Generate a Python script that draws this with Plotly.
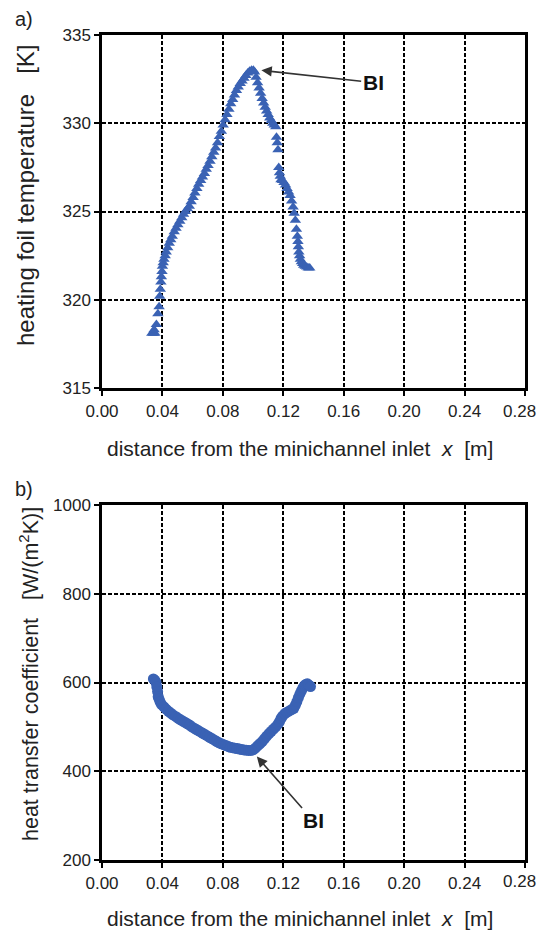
import plotly.graph_objects as go

# ---- data ----
x_a = [0.0330, 0.0340, 0.0350, 0.0345, 0.0360, 0.0370, 0.0378, 0.0382, 0.0386, 0.0390, 0.0393,
       0.0397, 0.0400, 0.0405, 0.0410, 0.0418, 0.0425, 0.0435, 0.0445, 0.0455, 0.0465, 0.0478,
       0.0490, 0.0502, 0.0515, 0.0528, 0.0540, 0.0552, 0.0565, 0.0578, 0.0590, 0.0603, 0.0615,
       0.0628, 0.0640, 0.0653, 0.0665, 0.0678, 0.0690, 0.0702, 0.0715, 0.0727, 0.0740, 0.0752,
       0.0765, 0.0777, 0.0790, 0.0802, 0.0815, 0.0827, 0.0840, 0.0852, 0.0865, 0.0877, 0.0890,
       0.0902, 0.0915, 0.0927, 0.0940, 0.0952, 0.0965, 0.0977, 0.0990, 0.1002, 0.1010, 0.1020,
       0.1030, 0.1040, 0.1050, 0.1060, 0.1070, 0.1080, 0.1090, 0.1100, 0.1110, 0.1120, 0.1130,
       0.1140, 0.1150, 0.1155, 0.1160, 0.1165, 0.1170, 0.1175, 0.1180, 0.1185, 0.1195, 0.1205,
       0.1215, 0.1225, 0.1235, 0.1245, 0.1255, 0.1265, 0.1272, 0.1280, 0.1287, 0.1293, 0.1297,
       0.1300, 0.1303, 0.1308, 0.1313, 0.1320, 0.1328, 0.1335, 0.1345, 0.1355, 0.1365, 0.1375]
temp_a = [318.1, 318.1, 318.1, 318.3, 318.6, 319.2, 319.6, 320.2, 320.6, 321.0, 321.3,
          321.6, 321.9, 322.1, 322.3, 322.5, 322.7, 322.95, 323.2, 323.4, 323.6, 323.85,
          324.05, 324.25, 324.45, 324.65, 324.85, 325.0, 325.15, 325.3, 325.55, 325.8, 326.05,
          326.3, 326.55, 326.75, 326.95, 327.15, 327.4, 327.6, 327.85, 328.1, 328.35, 328.6,
          328.9, 329.25, 329.55, 329.9, 330.2, 330.5, 330.8, 331.1, 331.35, 331.6, 331.85,
          332.05, 332.25, 332.4, 332.55, 332.7, 332.85, 332.95, 333.0, 333.0, 332.9, 332.6,
          332.3, 332.0, 331.7, 331.4, 331.15, 330.9, 330.7, 330.5, 330.3, 330.15, 330.0,
          329.9, 329.8, 329.2, 328.9, 328.5, 327.5, 327.2, 327.0, 326.8, 326.75, 326.65,
          326.5, 326.3, 326.1, 325.9, 325.6, 325.25, 324.9, 324.5, 324.0, 323.6, 323.3,
          323.0, 322.7, 322.5, 322.3, 322.15, 322.05, 321.95, 321.9, 321.85, 321.8, 321.8]

x_b = [0.0340, 0.0350, 0.0358, 0.0363, 0.0368, 0.0372, 0.0378, 0.0385, 0.0395, 0.0410, 0.0424,
       0.0440, 0.0455, 0.0470, 0.0490, 0.0505, 0.0520, 0.0535, 0.0550, 0.0565, 0.0580, 0.0595,
       0.0610, 0.0625, 0.0640, 0.0655, 0.0670, 0.0685, 0.0700, 0.0715, 0.0730, 0.0745, 0.0760,
       0.0775, 0.0790, 0.0805, 0.0820, 0.0835, 0.0850, 0.0865, 0.0880, 0.0895, 0.0910, 0.0925,
       0.0940, 0.0955, 0.0970, 0.0985, 0.1000, 0.1015, 0.1030, 0.1045, 0.1060, 0.1075, 0.1090,
       0.1105, 0.1120, 0.1135, 0.1150, 0.1165, 0.1175, 0.1185, 0.1195, 0.1210, 0.1225, 0.1240,
       0.1255, 0.1270, 0.1280, 0.1290, 0.1300, 0.1310, 0.1320, 0.1330, 0.1340, 0.1350, 0.1360,
       0.1370, 0.1380]
htc_b = [608, 605, 600, 590, 580, 568, 562, 556, 550, 545, 540,
         535, 531, 527, 523, 519, 516, 513, 510, 507, 504, 500,
         497, 494, 491, 488, 485, 482, 479, 476, 473, 470, 467,
         464, 462, 460, 458, 456, 454, 453, 452, 451, 450, 449,
         448, 447.5, 447, 447, 448, 452, 457, 462, 467, 473, 479,
         485, 490, 495, 500, 506, 512, 519, 524, 530, 533, 536,
         539, 542, 549, 557, 566, 574, 581, 588, 593, 596, 597,
         594, 591]

x_ticks = [0.00, 0.04, 0.08, 0.12, 0.16, 0.20, 0.24, 0.28]
x_tick_text = ["0.00", "0.04", "0.08", "0.12", "0.16", "0.20", "0.24", "0.28"]
y_ticks_a = [315, 320, 325, 330, 335]
y_ticks_b = [200, 400, 600, 800, 1000]

# ---- styling ----
FONT = "Liberation Sans, Arial, sans-serif"
BLUE = "#3a62b4"
W, H = 538, 934
X0, X1 = 102, 525          # plot area left/right (px)
A_T, A_B = 35, 388         # panel a top/bottom (px)
B_T, B_B = 505, 860        # panel b top/bottom (px)

fig = go.Figure()
fig.add_trace(go.Scatter(x=x_a, y=temp_a, mode="markers", xaxis="x", yaxis="y",
                         marker=dict(symbol="triangle-up", size=10, color=BLUE),
                         showlegend=False, cliponaxis=False))
fig.add_trace(go.Scatter(x=x_b, y=htc_b, mode="markers", xaxis="x2", yaxis="y2",
                         marker=dict(symbol="circle", size=11, color=BLUE),
                         showlegend=False, cliponaxis=False))

xdom = [X0 / W, X1 / W]
ydom_a = [1 - A_B / H, 1 - A_T / H]
ydom_b = [1 - B_B / H, 1 - B_T / H]

axis_common = dict(showline=True, linecolor="black", linewidth=2.5, mirror=True,
                   ticks="outside", ticklen=5, tickwidth=2, tickcolor="black",
                   showgrid=True, gridcolor="black", gridwidth=1.5, griddash="4px,2px",
                   zeroline=False, automargin=False,
                   tickfont=dict(family=FONT, size=17, color="#222"))

# the axis labels 0.00..0.24; the 0.28 tick mark is a minor tick and its label an annotation
x_main = dict(range=[0, 0.28], tickvals=x_ticks[:-1], ticktext=x_tick_text[:-1],
              ticklabelstandoff=1,
              minor=dict(tickvals=[x_ticks[-1]], ticks="outside", ticklen=5, tickwidth=2,
                         tickcolor="black", showgrid=False))

fig.update_layout(
    width=W, height=H, margin=dict(l=0, r=0, t=0, b=0, autoexpand=False),
    paper_bgcolor="white", plot_bgcolor="white",
    xaxis=dict(domain=xdom, anchor="y", **x_main, **axis_common),
    yaxis=dict(domain=ydom_a, anchor="x", range=[315, 335], tickvals=y_ticks_a, **axis_common),
    xaxis2=dict(domain=xdom, anchor="y2", **x_main, **axis_common),
    yaxis2=dict(domain=ydom_b, anchor="x2", range=[200, 1000], tickvals=y_ticks_b, **axis_common),
)

txt = dict(family=FONT, size=21, color="#222")
ann = []
# last x tick labels
for yy in (411, 881):
    ann.append(dict(text=x_tick_text[-1], x=1.0, y=1 - yy / H, xref="paper", yref="paper",
                    showarrow=False, font=dict(family=FONT, size=17, color="#222"),
                    xanchor="right", yanchor="middle"))
# panel labels
ann.append(dict(text="a)", x=13 / W, y=1 - 19 / H, xref="paper", yref="paper",
                showarrow=False, font=dict(family=FONT, size=20, color="#222"),
                xanchor="left", yanchor="middle"))
ann.append(dict(text="b)", x=13 / W, y=1 - 489 / H, xref="paper", yref="paper",
                showarrow=False, font=dict(family=FONT, size=20, color="#222"),
                xanchor="left", yanchor="middle"))
# x titles
for yy in (448, 918):
    ann.append(dict(text="distance from the minichannel inlet  <i>x</i>  [m]",
                    x=300 / W, y=1 - yy / H, xref="paper", yref="paper",
                    showarrow=False, font=txt, xanchor="center", yanchor="middle"))
# y titles
ann.append(dict(text="heating foil temperature   [K]", textangle=-90,
                x=25 / W, y=1 - 195 / H, xref="paper", yref="paper",
                showarrow=False, font=dict(family=FONT, size=24, color="#222"),
                xanchor="center", yanchor="middle"))
ann.append(dict(text="heat transfer coefficient   [W/(m<sup>2</sup>K)]", textangle=-90,
                x=29 / W, y=1 - 674 / H, xref="paper", yref="paper",
                showarrow=False, font=dict(family=FONT, size=21.5, color="#222"),
                xanchor="center", yanchor="middle"))
# BI labels with arrows (text sits at the arrow tail)
bi_font = dict(family=FONT, size=21, color="#111")
ann.append(dict(text="<b>BI</b>", x=0.1055, y=333.0, xref="x", yref="y",
                ax=0.1795, ay=332.3, axref="x", ayref="y", showarrow=True, arrowhead=2,
                arrowsize=1.3, arrowwidth=1.6, arrowcolor="#333", font=bi_font))
ann.append(dict(text="<b>BI</b>", x=0.1025, y=433, xref="x2", yref="y2",
                ax=0.1400, ay=288, axref="x2", ayref="y2", showarrow=True, arrowhead=2,
                arrowsize=1.3, arrowwidth=1.6, arrowcolor="#333", font=bi_font))
fig.update_layout(annotations=ann)

fig.write_html("out.html")
